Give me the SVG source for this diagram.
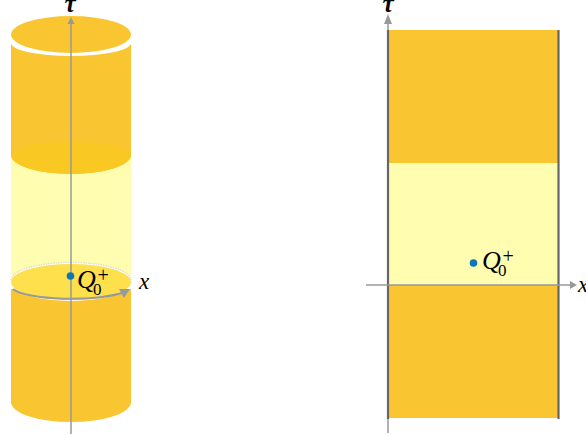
<svg xmlns="http://www.w3.org/2000/svg" width="586" height="435" viewBox="0 0 586 435">
<style>
.o{fill:#f9c632}.l{fill:#fefdb0}.ax{stroke:#999;stroke-width:1.5;fill:none}.ah{fill:#999}
.t{font-family:"Liberation Serif",serif;font-style:italic;fill:#000}.n{font-family:"Liberation Serif",serif;font-style:normal}
.d{fill:#0b76b8}.w{stroke:#666;stroke-width:2.2;fill:none}
</style>
<g id="left-cylinder">
<path class="l" d="M11 155V273A60 12 0 0 0 131 273V155Z"/>
<path class="o" d="M11 43A60 13 0 0 0 131 43V155A60 19 0 0 1 11 155Z"/>
<path d="M11 155A60 19 0 0 0 131 155A60 13 0 0 0 11 155Z" fill="#f9c823"/>
<path class="o" d="M11 289V402A60 20 0 0 0 131 402V289Z"/>
<ellipse class="o" cx="71" cy="34.500" rx="60" ry="18.500"/>
<path d="M11 280A60 17.500 0 0 1 131 280" fill="#fff" stroke="#ddd" stroke-width="1.500" stroke-dasharray="1.500 1"/>
<path d="M11 282A60 19 0 0 0 131 282" fill="#fff"/>
<ellipse cx="71" cy="282" rx="60" ry="18" fill="#fedf4c"/>
</g>
<g id="right-strip">
<rect class="o" x="388" y="30" width="170" height="133"/>
<rect class="l" x="388" y="163" width="170" height="122"/>
<rect class="o" x="388" y="285" width="170" height="133"/>
</g>
<g id="connectors">
<path class="ax" d="M71 24V434"/><path class="ah" d="M71 17L74.500 24H67.500Z"/>
<path d="M13 289A60 13 0 0 0 124 292" fill="none" stroke="#999" stroke-width="2"/>
<path class="ah" d="M130 289L119 289L124 298Z"/>
<path class="ax" d="M388 24V433"/><path class="ah" d="M388 14L392 24H384Z"/>
<path class="w" d="M388 30V419"/><path class="w" d="M558.500 30V419"/>
<path class="ax" d="M366 285H572"/><path class="ah" d="M570 281L570 289L577 285Z"/>
</g>
<g id="left-labels">
<text class="t" x="64.500" y="12" font-size="25" font-weight="bold">τ</text>
<circle class="d" cx="70.500" cy="276" r="3.800"/>
<text class="t" x="77" y="288" font-size="26">Q<tspan class="n" font-size="17" dx="-2.800" dy="7">0</tspan><tspan class="n" font-size="20" dx="-4" dy="-13">+</tspan></text>
<text class="t" x="139" y="289" font-size="23">x</text>
</g>
<g id="right-labels">
<text class="t" x="382.500" y="12" font-size="25" font-weight="bold">τ</text>
<circle class="d" cx="473.500" cy="263" r="3.800"/>
<text class="t" x="482" y="269" font-size="26">Q<tspan class="n" font-size="17" dx="-2.800" dy="7">0</tspan><tspan class="n" font-size="20" dx="-4" dy="-13">+</tspan></text>
<text class="t" x="578" y="292" font-size="23">x</text>
</g>
</svg>
